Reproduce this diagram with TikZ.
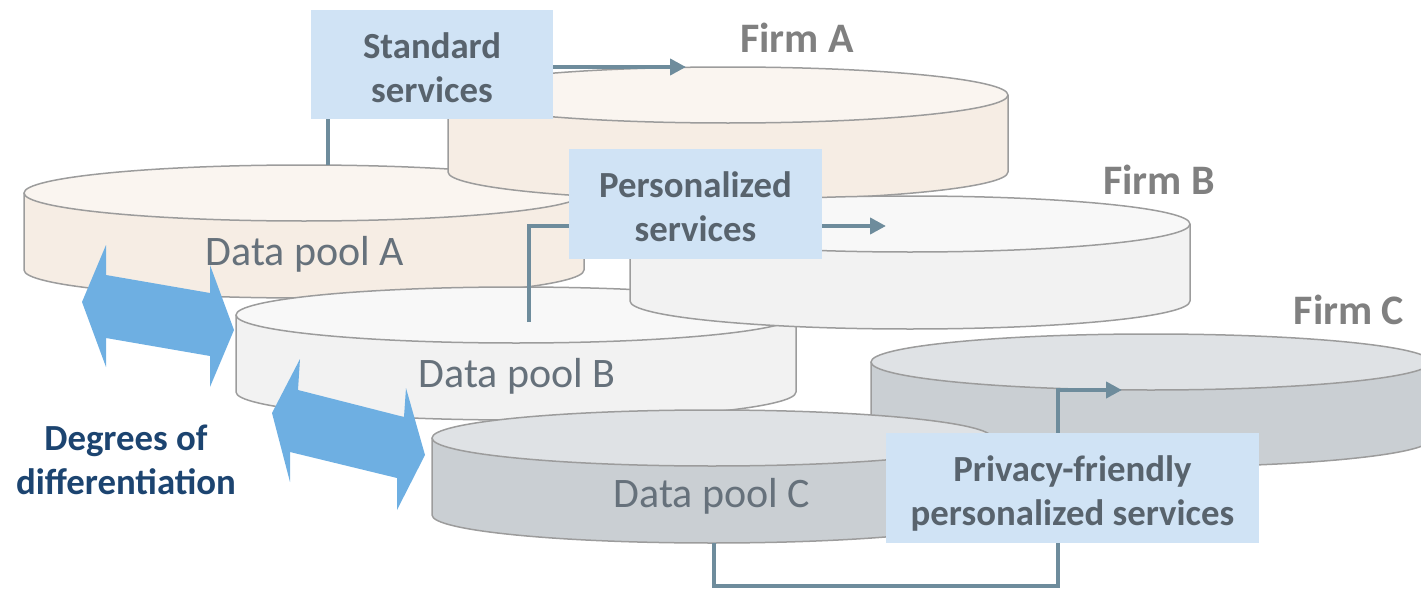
\documentclass[tikz,border=0pt]{standalone}
\usepackage{fontspec}
\setmainfont{Carlito}
\usetikzlibrary{arrows.meta}

\definecolor{boxblue}{HTML}{D0E3F5}
\definecolor{boxtext}{HTML}{58636D}
\definecolor{pooltext}{HTML}{66717B}
\definecolor{firmtext}{HTML}{808080}
\definecolor{degblue}{HTML}{1C4470}
\definecolor{linkcol}{HTML}{6E8C9C}
\definecolor{arrowblue}{HTML}{6EAFE2}
\definecolor{rim}{HTML}{9C9C9C}
\definecolor{sandtop}{HTML}{FAF5F0}
\definecolor{sandside}{HTML}{F6EDE4}
\definecolor{whitetop}{HTML}{F8F8F8}
\definecolor{whiteside}{HTML}{F2F2F2}
\definecolor{greytop}{HTML}{DFE2E5}
\definecolor{greyside}{HTML}{CACFD3}

% flat disc: name, centre of the lid, lid colour, wall colour
\newcommand{\disc}[5]{%
  \draw[rimline, fill=#5] (#2-280,#3) -- ++(0,77)
    arc[start angle=180, end angle=0, x radius=280, y radius=28] -- ++(0,-77);
  \draw[rimline, fill=#4] (#2,#3) ellipse[x radius=280, y radius=28];
  \coordinate (#1) at (#2,#3);}

\begin{document}
\begin{tikzpicture}[x=0.5pt, y=-0.5pt,
    service/.style={fill=boxblue, text=boxtext, align=center, inner sep=0pt,
      text height=39.5pt, text depth=2pt,
      font=\bfseries\fontsize{18.4}{22}\selectfont},
    firm/.style={text=firmtext, font=\bfseries\fontsize{21}{25}\selectfont},
    pool/.style={text=pooltext, anchor=base, font=\fontsize{21}{25}\selectfont},
    link/.style={draw=linkcol, line width=2pt},
    tolink/.style={link, -{Triangle[length=8pt, width=8pt]}},
    rimline/.style={draw=rim, line width=0.75pt}]
  \useasboundingbox (0,0) rectangle (1421,589);
  \clip (0,0) rectangle (1421,589);

  \disc{poolA}{304}{193}{sandtop}{sandside}
  \disc{firmAdisc}{728}{95}{sandtop}{sandside}
  \disc{poolB}{516}{315}{whitetop}{whiteside}
  \disc{firmBdisc}{910}{224}{whitetop}{whiteside}
  \disc{firmCdisc}{1151}{362}{greytop}{greyside}
  \disc{poolC}{712}{438}{greytop}{greyside}

  \node[pool] (poolAtext) at (305,265) {Data pool A};
  \node[pool] (poolBtext) at (517,387) {Data pool B};
  \node[pool] (poolCtext) at (712,507) {Data pool C};

  \node[firm] (firmA) at (797,38) {Firm A};
  \node[firm] (firmB) at (1159,180) {Firm B};
  \node[firm] (firmC) at (1349,310) {Firm C};

  \node[service, minimum width=121pt, minimum height=54.5pt] (std) at (432,64.5) {Standard\\services};
  \node[service, minimum width=126.5pt, minimum height=55pt] (pers) at (695.5,204) {Personalized\\services};
  \node[service, minimum width=186.5pt, minimum height=55pt] (priv) at (1072.5,488) {Privacy-friendly\\personalized services};

  \coordinate (stdFrom) at (328,165);
  \coordinate (stdTo) at (686,67);
  \coordinate (persFrom) at (529,322);
  \coordinate (persTo) at (886,226);
  \coordinate (privFrom) at (714,543);
  \coordinate (privTurn) at (1058,586);
  \coordinate (privTo) at (1122,390);

  \draw[link] (stdFrom) -- (stdFrom |- std.south);
  \draw[tolink] (std.east |- stdTo) -- (stdTo);
  \draw[link] (persFrom) |- (pers.west |- persTo);
  \draw[tolink] (pers.east |- persTo) -- (persTo);
  \draw[link] (privFrom) |- (privTurn) -- (privTurn |- priv.south);
  \draw[tolink] (privTurn |- priv.north) |- (privTo);

  % double arrows between the pools
  \fill[arrowblue] (82,302) -- (106,245) -- (106,275) -- (210,293) -- (210,265) -- (234,330)
    -- (210,387) -- (210,356) -- (106,338) -- (106,367) -- cycle;
  \fill[arrowblue] (272,413) -- (300,359) -- (298,390) -- (404,417) -- (406,388) -- (425,455)
    -- (397,510) -- (397,478) -- (290,452) -- (290,482) -- cycle;

  \node[text=degblue, align=center, font=\bfseries\fontsize{18.4}{22}\selectfont] (degrees) at (126,460) {Degrees of\\differentiation};
\end{tikzpicture}
\end{document}
